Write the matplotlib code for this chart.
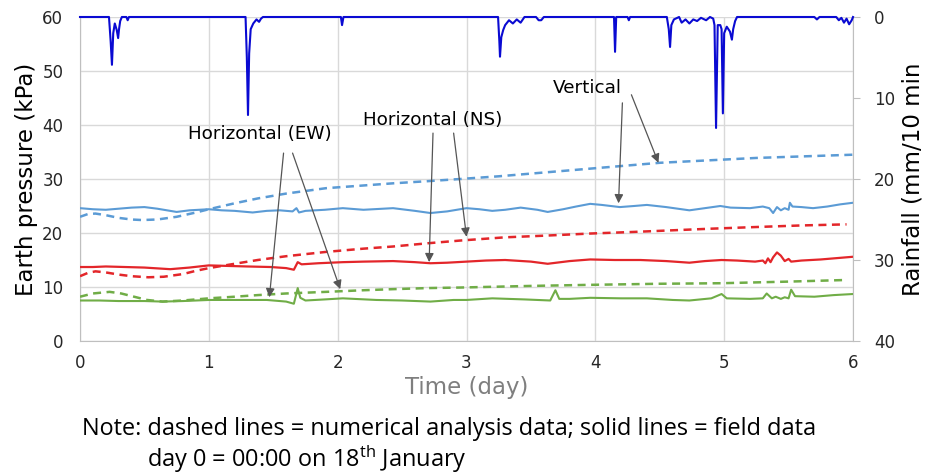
import matplotlib
matplotlib.use("Agg")
import matplotlib.pyplot as plt

# ---------------- data ----------------
rain_t = [0.0, 0.225, 0.238, 0.248, 0.258, 0.27, 0.285, 0.296, 0.303, 0.312, 0.325, 0.36, 0.37, 0.38,
          1.285, 1.295, 1.304, 1.313, 1.325, 1.345, 1.37, 1.39, 1.405, 1.42,
          2.025, 2.034, 2.045,
          3.245, 3.255, 3.26, 3.27, 3.285, 3.30, 3.33, 3.36, 3.39, 3.42, 3.45, 3.48, 3.54, 3.56, 3.58, 3.60,
          4.145, 4.153, 4.162, 4.25, 4.26, 4.27,
          4.555, 4.57, 4.58, 4.59, 4.61, 4.65, 4.67, 4.70, 4.73, 4.76, 4.79, 4.82, 4.86, 4.89,
          4.915, 4.925, 4.937, 4.95, 4.97, 4.98, 4.99, 5.0, 5.02, 5.045, 5.06, 5.07, 5.085, 5.10,
          5.70, 5.72, 5.74, 5.87, 5.89, 5.91, 5.93, 5.95, 5.97, 5.99, 6.0]
rain_v = [0.0, 0.0, 3.0, 5.9, 2.0, 0.8, 1.6, 2.6, 1.5, 0.5, 0.0, 0.0, 0.4, 0.0,
          0.0, 5.0, 12.1, 4.5, 1.5, 0.8, 0.3, 0.6, 0.2, 0.0,
          0.0, 1.0, 0.0,
          0.0, 3.0, 4.9, 2.5, 1.6, 1.0, 0.4, 0.8, 0.3, 0.7, 0.0, 0.0, 0.0, 0.4, 0.4, 0.0,
          0.0, 4.3, 0.0, 0.0, 0.4, 0.0,
          0.0, 1.5, 3.7, 1.0, 0.3, 0.0, 0.7, 0.3, 0.8, 0.3, 0.5, 0.1, 0.4, 0.0,
          0.2, 1.0, 13.7, 1.0, 1.0, 1.5, 11.9, 2.0, 1.2, 1.8, 2.8, 1.5, 0.5, 0.0,
          0.0, 0.3, 0.0, 0.0, 0.4, 0.1, 0.7, 0.2, 0.9, 0.4, 0.0]

vert_t = [0.0, 0.1, 0.2, 0.3, 0.4, 0.5, 0.6, 0.75, 0.85, 1.0, 1.1, 1.2, 1.34, 1.45, 1.55,
          1.65, 1.68, 1.70, 1.75, 1.9, 2.04, 2.2, 2.43, 2.6, 2.72, 2.85, 3.0, 3.1, 3.2,
          3.3, 3.42, 3.55, 3.63, 3.75, 3.85, 3.96, 4.05, 4.19, 4.3, 4.4, 4.55, 4.73,
          4.85, 4.97, 5.05, 5.2, 5.3, 5.35, 5.38, 5.41, 5.44, 5.47, 5.50, 5.51, 5.53,
          5.6, 5.69, 5.8, 5.9, 6.0]
vert_v = [24.6, 24.4, 24.3, 24.5, 24.7, 24.8, 24.5, 23.9, 24.2, 24.4, 24.2, 24.1, 23.8,
          24.1, 24.2, 24.0, 24.6, 23.8, 24.1, 24.3, 24.6, 24.3, 24.6, 24.1, 23.7, 24.0,
          24.6, 24.4, 24.1, 24.3, 24.7, 24.3, 23.9, 24.4, 24.9, 25.4, 25.2, 24.8, 25.0,
          25.2, 24.8, 24.2, 24.6, 25.0, 24.7, 24.6, 24.9, 24.6, 23.7, 24.8, 24.2, 24.6,
          24.3, 25.6, 24.9, 24.8, 24.6, 24.9, 25.3, 25.6]

ns_t = [0.0, 0.1, 0.2, 0.35, 0.5, 0.7, 0.85, 1.0, 1.15, 1.3, 1.48, 1.6, 1.66, 1.69, 1.72,
        1.85, 2.04, 2.2, 2.43, 2.6, 2.72, 2.85, 3.0, 3.15, 3.3, 3.5, 3.63, 3.8, 3.96,
        4.15, 4.35, 4.55, 4.73, 4.85, 4.98, 5.1, 5.24, 5.3, 5.32, 5.34, 5.36, 5.38,
        5.41, 5.44, 5.47, 5.5, 5.52, 5.6, 5.75, 5.9, 6.0]
ns_v = [13.7, 13.7, 13.8, 13.7, 13.6, 13.3, 13.6, 14.0, 13.9, 13.8, 13.7, 13.5, 13.2,
        14.6, 14.2, 14.4, 14.6, 14.7, 14.8, 14.6, 14.4, 14.5, 14.7, 14.9, 15.0, 14.7,
        14.3, 14.8, 15.1, 15.0, 15.0, 14.8, 14.5, 14.8, 15.0, 14.9, 14.7, 14.9, 14.4,
        15.3, 14.6, 15.5, 16.4, 15.8, 14.8, 15.2, 14.7, 14.9, 15.1, 15.4, 15.6]

ew_t = [0.0, 0.15, 0.3, 0.5, 0.64, 0.8, 1.0, 1.2, 1.45, 1.6, 1.66, 1.69, 1.71, 1.75, 1.9,
        2.04, 2.3, 2.5, 2.72, 2.9, 3.0, 3.2, 3.45, 3.65, 3.69, 3.72, 3.8, 3.96, 4.2,
        4.4, 4.6, 4.73, 4.9, 4.98, 5.02, 5.2, 5.3, 5.33, 5.37, 5.4, 5.44, 5.47, 5.5,
        5.52, 5.55, 5.7, 5.85, 6.0]
ew_v = [7.5, 7.5, 7.4, 7.4, 7.3, 7.4, 7.6, 7.6, 7.6, 7.3, 6.9, 9.8, 8.0, 7.5, 7.7, 7.9,
        7.6, 7.5, 7.3, 7.6, 7.6, 7.9, 7.7, 7.5, 9.4, 7.8, 7.8, 8.0, 7.9, 7.9, 7.6, 7.5,
        7.9, 8.7, 7.9, 7.8, 7.9, 8.8, 7.9, 8.2, 7.8, 8.1, 7.9, 9.5, 8.3, 8.2, 8.5, 8.7]

vert_num_t = [0.0, 0.06, 0.12, 0.2, 0.3, 0.4, 0.48, 0.6, 0.75, 0.9, 1.0, 1.2, 1.38, 1.6,
              1.91, 2.2, 2.43, 2.7, 2.95, 3.25, 3.5, 3.75, 4.0, 4.25, 4.5, 4.75, 5.0,
              5.25, 5.5, 5.75, 6.0]
vert_num_v = [23.0, 23.5, 23.6, 23.3, 22.8, 22.5, 22.4, 22.5, 23.0, 23.8, 24.4, 25.5,
              26.4, 27.3, 28.3, 28.8, 29.2, 29.6, 30.0, 30.5, 31.0, 31.5, 32.0, 32.5,
              33.0, 33.3, 33.6, 33.9, 34.1, 34.3, 34.5]

ns_num_t = [0.0, 0.06, 0.12, 0.2, 0.3, 0.4, 0.53, 0.65, 0.8, 0.9, 1.0, 1.2, 1.38, 1.6,
            1.91, 2.2, 2.43, 2.7, 2.95, 3.3, 3.6, 3.96, 4.3, 4.6, 4.9, 5.24, 5.6, 5.95]
ns_num_v = [12.0, 12.6, 12.9, 12.7, 12.3, 12.0, 11.8, 11.9, 12.4, 13.0, 13.5, 14.3, 15.0,
            15.7, 16.5, 17.1, 17.5, 18.1, 18.6, 19.2, 19.5, 19.9, 20.2, 20.5, 20.8, 21.1,
            21.4, 21.6]

ew_num_t = [0.0, 0.1, 0.23, 0.32, 0.42, 0.52, 0.64, 0.8, 1.0, 1.2, 1.38, 1.6, 1.91, 2.2,
            2.43, 2.7, 2.95, 3.5, 3.96, 4.5, 4.98, 5.5, 5.95]
ew_num_v = [8.2, 8.8, 9.1, 8.8, 8.2, 7.6, 7.3, 7.5, 7.9, 8.2, 8.5, 8.8, 9.1, 9.4, 9.6,
            9.8, 9.9, 10.2, 10.4, 10.6, 10.7, 11.0, 11.3]

x_ticks = [0, 1, 2, 3, 4, 5, 6]
y_ticks = [0, 10, 20, 30, 40, 50, 60]
rain_ticks = [0, 10, 20, 30, 40]

# ---------------- figure ----------------
fig = plt.figure(figsize=(9.3, 4.73), dpi=100)
ax = fig.add_axes([80 / 930, 1 - 341 / 473, (853 - 80) / 930, (341 - 17) / 473])

c_vert = "#5B9BD5"
c_ns = "#E3262A"
c_ew = "#70AD47"
c_rain = "#0A0AD2"
grid_c = "#D9D9D9"
dash = (0, (3.2, 2.2))

ax.plot(vert_num_t, vert_num_v, color=c_vert, lw=1.8, linestyle=dash, zorder=3)
ax.plot(ns_num_t, ns_num_v, color=c_ns, lw=1.8, linestyle=dash, zorder=3)
ax.plot(ew_num_t, ew_num_v, color=c_ew, lw=1.8, linestyle=dash, zorder=3)
ax.plot(vert_t, vert_v, color=c_vert, lw=1.5, zorder=3)
ax.plot(ns_t, ns_v, color=c_ns, lw=1.6, zorder=3)
ax.plot(ew_t, ew_v, color=c_ew, lw=1.5, zorder=3)

ax.set_xlim(0, 6)
ax.set_ylim(0, 60)
ax.set_xticks(x_ticks)
ax.set_yticks(y_ticks)
ax.grid(True, color=grid_c, lw=1.0)
ax.set_axisbelow(True)
for s in ["top", "right"]:
    ax.spines[s].set_visible(False)
for s in ["left", "bottom"]:
    ax.spines[s].set_color("#BFBFBF")
ax.tick_params(axis="both", length=0, labelsize=12, colors="#404040", labelcolor="#262626")
ax.tick_params(axis="x", pad=9)
ax.tick_params(axis="y", pad=12)
ax.set_ylabel("Earth pressure (kPa)", fontsize=16.5, color="#000000", labelpad=3)
ax.set_xlabel("Time (day)", fontsize=16.5, color="#7F7F7F", labelpad=3)

ax2 = ax.twinx()
ax2.plot(rain_t, rain_v, color=c_rain, lw=1.5, zorder=4, clip_on=False)
ax2.set_ylim(40, 0)
ax2.set_yticks(rain_ticks)
for s in ["top", "left", "bottom"]:
    ax2.spines[s].set_visible(False)
ax2.spines["right"].set_color("#BFBFBF")
ax2.tick_params(axis="y", length=5, color="#BFBFBF", labelsize=12, labelcolor="#262626", pad=10)
ax2.set_ylabel("Rainfall (mm/10 min", fontsize=16.5, labelpad=5)

# ---------------- annotations ----------------
arrow_kw = dict(arrowstyle="-|>", color="#555555", lw=0.9, mutation_scale=13,
                shrinkA=0, shrinkB=0)
ann_fs = 13.2
ax.text(3.94, 46.9, "Vertical", ha="center", va="center", fontsize=ann_fs, zorder=6)
ax.annotate("", xy=(4.18, 25.5), xytext=(4.21, 44.1), arrowprops=arrow_kw, zorder=6)
ax.annotate("", xy=(4.49, 33.0), xytext=(4.28, 45.6), arrowprops=arrow_kw, zorder=6)

ax.text(2.74, 41.0, "Horizontal (NS)", ha="center", va="center", fontsize=ann_fs, zorder=6)
ax.annotate("", xy=(2.71, 14.6), xytext=(2.74, 38.5), arrowprops=arrow_kw, zorder=6)
ax.annotate("", xy=(3.0, 19.3), xytext=(2.90, 38.5), arrowprops=arrow_kw, zorder=6)

ax.text(1.40, 38.3, "Horizontal (EW)", ha="center", va="center", fontsize=ann_fs, zorder=6)
ax.annotate("", xy=(1.47, 8.1), xytext=(1.58, 34.8), arrowprops=arrow_kw, zorder=6)
ax.annotate("", xy=(2.02, 9.6), xytext=(1.65, 34.8), arrowprops=arrow_kw, zorder=6)

# ---------------- note ----------------
note_fam = ["Open Sans", "DejaVu Sans"]
fig.text(82 / 930, 1 - 429 / 473, "Note: dashed lines = numerical analysis data; solid lines = field data",
         fontsize=16.9, family=note_fam, ha="left", va="center")
fig.text(147 / 930, 1 - 459 / 473, "day 0 = 00:00 on 18$^{\\mathregular{th}}$ January",
         fontsize=16.9, family=note_fam, ha="left", va="center")

fig.savefig("out.png", dpi=100)
